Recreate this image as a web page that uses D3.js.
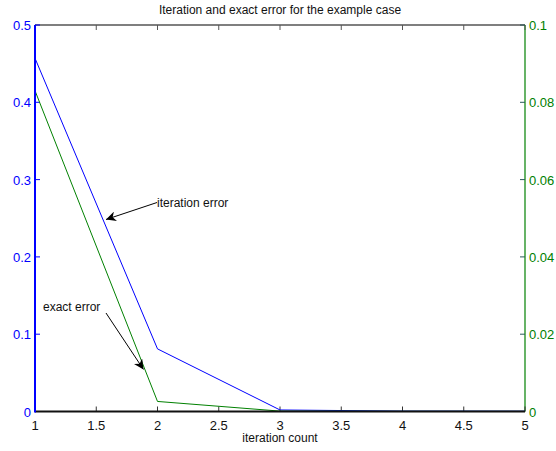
<!DOCTYPE html>
<html>
<head>
<meta charset="utf-8">
<script src="https://cdn.jsdelivr.net/npm/d3@7"></script>
<style>
  body { margin: 0; background: #fff; }
  text { font-family: "Liberation Sans", Arial, Helvetica, sans-serif; }
</style>
</head>
<body>
<svg id="chart" width="556" height="451"></svg>
<script>
// Iteration counts and the two error series.
const iterations = [1, 2, 3, 4, 5];
const iterationError = [0.457, 0.081, 0.002, 0.0005, 0.0004];
const exactError = [0.083, 0.0026, 0.0001, 0.00005, 0.00004];

const xTicks = [1, 1.5, 2, 2.5, 3, 3.5, 4, 4.5, 5];
const leftTicks = [0, 0.1, 0.2, 0.3, 0.4, 0.5];
const rightTicks = [0, 0.02, 0.04, 0.06, 0.08, 0.1];

const blue = "#0000ff",
    green = "#008000";

let svg = d3.select("#chart");
let plotLeft = 35, plotRight = 525, plotTop = 25, plotBottom = 411.5;

let x = d3.scaleLinear().domain([1, 5]).range([plotLeft, plotRight]);
let yL = d3.scaleLinear().domain([0, 0.5]).range([plotBottom, plotTop]);
let yR = d3.scaleLinear().domain([0, 0.1]).range([plotBottom, plotTop]);

// Box: top black, right green.
svg.append("line").attr("x1", plotLeft).attr("x2", plotRight).attr("y1", plotTop).attr("y2", plotTop)
    .attr("stroke", "#000").attr("stroke-width", 1.2);
svg.append("line").attr("x1", plotRight).attr("x2", plotRight).attr("y1", plotTop).attr("y2", plotBottom)
    .attr("stroke", green).attr("stroke-width", 1.2);

// X ticks at top and bottom, pointing inward.
xTicks.forEach(t => {
    svg.append("line").attr("x1", x(t)).attr("x2", x(t)).attr("y1", plotBottom).attr("y2", plotBottom - 5)
        .attr("stroke", "#333");
    svg.append("line").attr("x1", x(t)).attr("x2", x(t)).attr("y1", plotTop).attr("y2", plotTop + 5)
        .attr("stroke", "#555");
    svg.append("text").attr("x", x(t)).attr("y", plotBottom + 18)
        .attr("text-anchor", "middle").attr("font-size", 13).attr("fill", "#111")
        .text(t);
});

// Left axis (blue).
leftTicks.forEach(t => {
    svg.append("line").attr("x1", plotLeft).attr("x2", plotLeft + 5).attr("y1", yL(t)).attr("y2", yL(t))
        .attr("stroke", blue);
    svg.append("text").attr("x", plotLeft - 4).attr("y", yL(t) + 5)
        .attr("text-anchor", "end").attr("font-size", 13).attr("fill", blue)
        .text(t);
});

// Right axis (green).
rightTicks.forEach(t => {
    svg.append("line").attr("x1", plotRight).attr("x2", plotRight - 5).attr("y1", yR(t)).attr("y2", yR(t))
        .attr("stroke", "#2a5a5a");
    svg.append("text").attr("x", plotRight + 4).attr("y", yR(t) + 5)
        .attr("text-anchor", "start").attr("font-size", 13).attr("fill", green)
        .text(t);
});

// Series lines.
let lineL = d3.line().x((d, i) => x(iterations[i])).y(d => yL(d));
let lineR = d3.line().x((d, i) => x(iterations[i])).y(d => yR(d));

svg.append("path").datum(iterationError).attr("d", lineL)
    .attr("fill", "none").attr("stroke", blue).attr("stroke-width", 1);
svg.append("path").datum(exactError).attr("d", lineR)
    .attr("fill", "none").attr("stroke", green).attr("stroke-width", 1);

// Bottom and left axis lines on top of the data.
svg.append("line").attr("x1", plotLeft).attr("x2", plotRight).attr("y1", plotBottom).attr("y2", plotBottom)
    .attr("stroke", "#111").attr("stroke-width", 2);
svg.append("line").attr("x1", plotLeft).attr("x2", plotLeft).attr("y1", plotTop).attr("y2", plotBottom + 1)
    .attr("stroke", blue).attr("stroke-width", 2);

// Arrow marker.
svg.append("defs").append("marker")
    .attr("id", "arrow").attr("viewBox", "0 0 10 10")
    .attr("refX", 10).attr("refY", 5)
    .attr("markerWidth", 10).attr("markerHeight", 10)
    .attr("markerUnits", "userSpaceOnUse")
    .attr("orient", "auto")
    .append("path").attr("d", "M0,0 L10,5 L0,10 L3,5 Z").attr("fill", "#000");

// Annotations.
svg.append("line").attr("x1", 157).attr("y1", 202.5).attr("x2", 106).attr("y2", 219.5)
    .attr("stroke", "#000").attr("marker-end", "url(#arrow)");
svg.append("text").attr("x", 157).attr("y", 207).attr("font-size", 12).attr("fill", "#111")
    .text("iteration error");

svg.append("line").attr("x1", 106).attr("y1", 313).attr("x2", 143.5).attr("y2", 369.5)
    .attr("stroke", "#000").attr("marker-end", "url(#arrow)");
svg.append("text").attr("x", 43).attr("y", 311).attr("font-size", 12).attr("fill", "#111")
    .text("exact error");

// Title and x label.
svg.append("text").attr("x", (plotLeft + plotRight) / 2).attr("y", 14)
    .attr("text-anchor", "middle").attr("font-size", 12).attr("fill", "#111")
    .text("Iteration and exact error for the example case");
svg.append("text").attr("x", (plotLeft + plotRight) / 2).attr("y", 442)
    .attr("text-anchor", "middle").attr("font-size", 12).attr("fill", "#111")
    .text("iteration count");
</script>
</body>
</html>
